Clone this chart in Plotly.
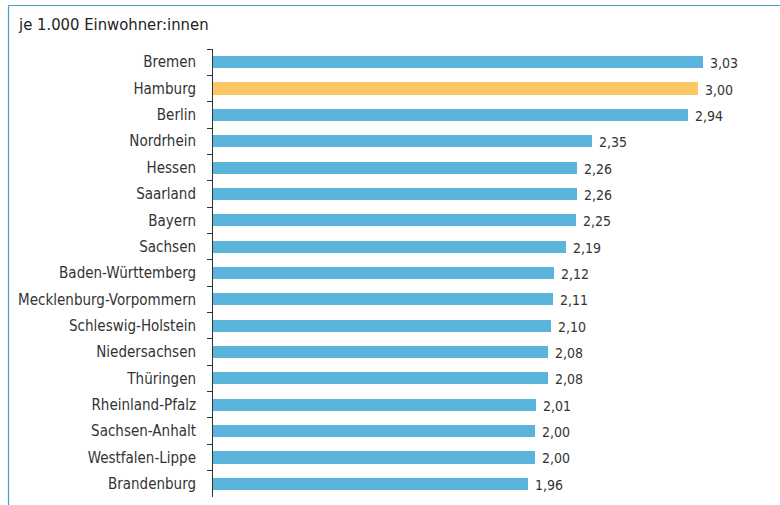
import plotly.graph_objects as go

categories = ["Bremen", "Hamburg", "Berlin", "Nordrhein", "Hessen", "Saarland", "Bayern",
              "Sachsen", "Baden-Württemberg", "Mecklenburg-Vorpommern", "Schleswig-Holstein",
              "Niedersachsen", "Thüringen", "Rheinland-Pfalz", "Sachsen-Anhalt",
              "Westfalen-Lippe", "Brandenburg"]
values = [3.03, 3.00, 2.94, 2.35, 2.26, 2.26, 2.25, 2.19, 2.12, 2.11, 2.10, 2.08, 2.08,
          2.01, 2.00, 2.00, 1.96]
highlight = "Hamburg"
title_text = "je 1.000 Einwohner:innen"

BLUE = "#5ab4dc"
ORANGE = "#fdc765"
TEXT = "#333333"
FONT = "DejaVu Sans Condensed"
colors = [ORANGE if c == highlight else BLUE for c in categories]
labels = [f"{v:.2f}".replace(".", ",") for v in values]

W, H = 780, 505
ml, mr, mt, mb = 213, 10, 49, 8
pw, ph = W - ml - mr, H - mt - mb

fig = go.Figure(go.Bar(
    x=values, y=categories, orientation="h",
    marker=dict(color=colors, line=dict(width=0)),
    width=0.46,
    hoverinfo="skip",
))

px_per_unit = 162.9
x0 = 4 / px_per_unit
x1 = x0 + pw / px_per_unit

annotations = [dict(
    text=title_text, xref="paper", yref="paper",
    x=-(ml - 16) / pw, y=1 + (mt - 25) / ph,
    xanchor="left", yanchor="middle", showarrow=False,
    font=dict(family=FONT, size=16.5, color="#222222"),
)]
for c, v, t in zip(categories, values, labels):
    annotations.append(dict(
        text=t, x=v, y=c, xref="x", yref="y",
        xanchor="left", yanchor="middle", xshift=5, yshift=-1,
        showarrow=False,
        font=dict(family=FONT, size=14, color=TEXT),
    ))

fy = 1 + (mt - 5.5) / ph
fx = -(ml - 8.5) / pw
fig.update_layout(
    width=W, height=H,
    margin=dict(l=ml, r=mr, t=mt, b=mb),
    paper_bgcolor="white", plot_bgcolor="white",
    showlegend=False,
    bargap=0,
    xaxis=dict(range=[x0, x1], visible=False),
    yaxis=dict(
        autorange="reversed", type="category",
        showline=True, linecolor=TEXT, linewidth=1,
        ticks="outside", ticklen=5, tickcolor=TEXT, tickwidth=1,
        tickson="boundaries",
        ticklabelstandoff=13,
        tickfont=dict(family=FONT, size=15, color=TEXT),
        showgrid=False, zeroline=False,
    ),
    annotations=annotations,
    shapes=[
        dict(type="line", xref="paper", yref="paper",
             x0=fx, x1=1 + (mr + 2) / pw, y0=fy, y1=fy,
             line=dict(color="#4a9ec0", width=1.2)),
        dict(type="line", xref="paper", yref="paper",
             x0=fx, x1=fx, y0=fy, y1=-(mb + 2) / ph,
             line=dict(color="#4a9ec0", width=1.2)),
    ],
)

fig.write_html("out.html", config={"displayModeBar": False},
               post_script="document.body.style.margin='0';document.body.style.overflow='hidden';")
